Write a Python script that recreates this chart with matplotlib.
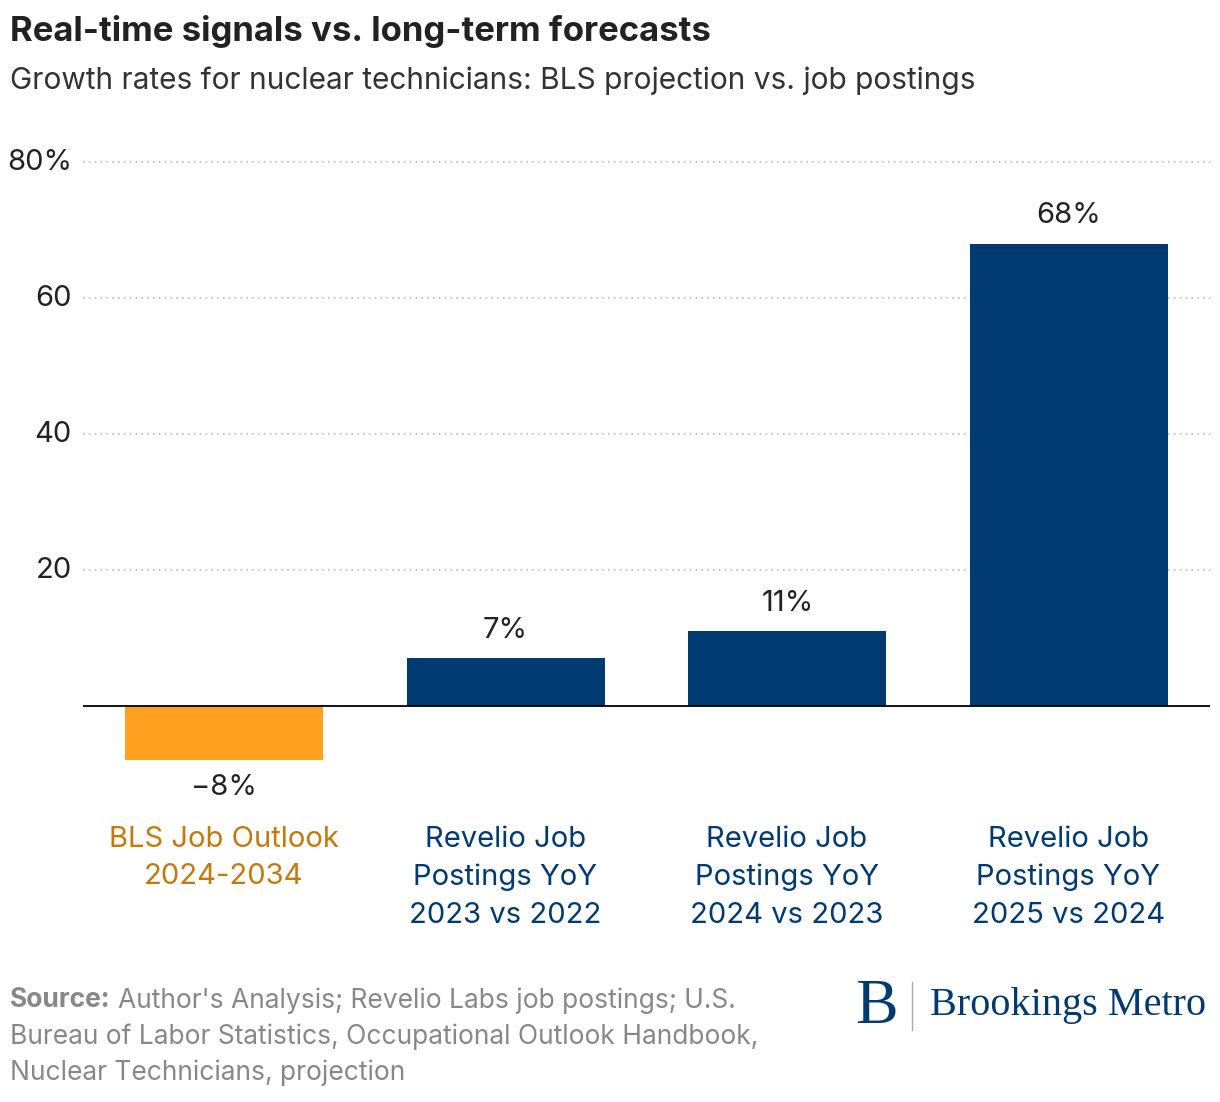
import matplotlib
matplotlib.use("Agg")
import matplotlib.pyplot as plt

categories = ["BLS Job Outlook\n2024-2034", "Revelio Job\nPostings YoY\n2023 vs 2022",
              "Revelio Job\nPostings YoY\n2024 vs 2023", "Revelio Job\nPostings YoY\n2025 vs 2024"]
values = [-8, 7, 11, 68]
value_labels = ["\u22128%", "7%", "11%", "68%"]
yticks = [20, 40, 60, 80]
ytick_labels = ["20", "40", "60", "80%"]

plt.rcParams['font.family'] = ['Inter', 'DejaVu Sans']
W, H = 1220, 1102
fig = plt.figure(figsize=(W/100, H/100), dpi=100)
ymin, ymax = -10, 82
top_px = 706 - ymax*6.8
bot_px = 706 - ymin*6.8
ax = fig.add_axes([83/W, 1-bot_px/H, (1210-83)/W, (bot_px-top_px)/H])
navy = "#003A70"; orange = "#FFA01E"; orange_txt = "#C27A0E"
colors = [orange] + [navy]*3
x = list(range(len(values)))
ax.bar(x, values, width=0.703, color=colors, zorder=2)
ax.set_xlim(-0.5, 3.5); ax.set_ylim(ymin, ymax)
for s in ax.spines.values(): s.set_visible(False)
ax.axhline(0, color="black", lw=1.3, zorder=3)
for t in yticks:
    ax.axhline(t, color="#bbbbbb", lw=1.2, ls=(0, (1, 2.5)), zorder=1)
ax.set_xticks([]); ax.set_yticks([])
fs = 21
for t, l in zip(yticks, ytick_labels):
    ax.text(-0.5 - 11/281.5, t, l, ha="right", va="center", fontsize=fs, color="#222222")
for xi, v, l in zip(x, values, value_labels):
    if v >= 0:
        ax.text(xi, v + 2.1, l, ha="center", va="bottom", fontsize=fs, color="#222222")
    else:
        ax.text(xi, v - 2.0, l, ha="center", va="top", fontsize=fs, color="#222222")
for xi, c in zip(x, categories):
    fig.text((83 + (xi+0.5)*281.5)/W, 1-826/H, c, ha="center", va="top", fontsize=fs,
             color=orange_txt if xi == 0 else navy, linespacing=1.5)

fig.text(10/W, 1-32/H, "Real-time signals vs. long-term forecasts", fontsize=25,
         fontweight="bold", color="#222222", va="center")
fig.text(10/W, 1-81/H, "Growth rates for nuclear technicians: BLS projection vs. job postings",
         fontsize=21.5, color="#333333", va="center")
sfs = 19
t1 = fig.text(10/W, 1-987/H, "Source:", fontsize=sfs, fontweight="bold", color="#888888", va="top")
fig.canvas.draw()
bb = t1.get_window_extent()
fig.text((bb.x1 + 7)/W, 1-987/H, "Author's Analysis; Revelio Labs job postings; U.S.",
         fontsize=sfs, color="#888888", va="top")
fig.text(10/W, 1-1023/H, "Bureau of Labor Statistics, Occupational Outlook Handbook,",
         fontsize=sfs, color="#888888", va="top")
fig.text(10/W, 1-1059/H, "Nuclear Technicians, projection",
         fontsize=sfs, color="#888888", va="top")
fig.text(855/W, 1-1008/H, "B", fontsize=46, family="Liberation Serif", color=navy, va="center")
fig.add_artist(plt.Line2D([912/W, 912/W], [1-982/H, 1-1030/H], color="#aaaaaa", lw=1))
fig.text(930/W, 1-1006/H, "Brookings Metro", fontsize=29, family="Liberation Serif",
         color=navy, va="center")
fig.savefig("out.png", dpi=100)
